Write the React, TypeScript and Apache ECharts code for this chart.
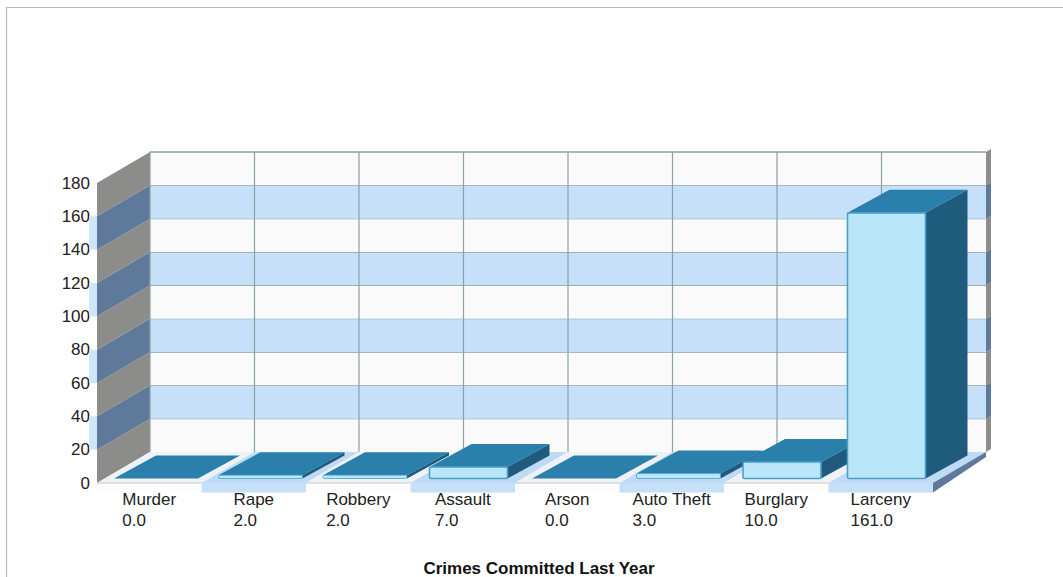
import React, { useEffect, useRef } from "react";
import * as echarts from "echarts";

const categories = ["Murder", "Rape", "Robbery", "Assault", "Arson", "Auto Theft", "Burglary", "Larceny"];
const crimeValues = [0, 2, 2, 7, 0, 3, 10, 161];
const valueTicks = [0, 20, 40, 60, 80, 100, 120, 140, 160];
const titleText = "Crimes Committed Last Year";

const WALL_DX = 53;
const WALL_DY = -31;
const BAR_DX = 42;
const BAR_DY = -23;
const SLAB = 9.5;
const BAR_SCALE = 0.99;
const FONT = '"Liberation Sans", Arial, sans-serif';
const GRID_LINE = "#8ba2a6";

const isBlueBand = (low: number) => (low / 20) % 2 === 1;

function poly(points: number[][], fill: string, stroke?: string, lineWidth = 1) {
  return {
    type: "polygon",
    shape: { points },
    style: { fill, stroke: stroke || fill, lineWidth: stroke ? lineWidth : 0 },
  };
}

export default function App() {
  const ref = useRef<HTMLDivElement>(null);

  useEffect(() => {
    if (!ref.current) return;
    const chart = echarts.init(ref.current, undefined, { renderer: "svg" });

    const renderBand = (_params: any, api: any) => {
      const low = api.value(1) as number;
      const high = api.value(2) as number;
      const left = api.coord([0, low])[0] - api.size([1, 0])[0] / 2;
      const bandW = api.size([1, 0])[0] * categories.length;
      const right = left + bandW;
      const yLow = api.coord([0, low])[1];
      const yHigh = api.coord([0, high])[1];
      const blue = isBlueBand(low);
      const backFill = blue ? "#c6e0f9" : "#fafafa";
      const sideFill = blue ? "#5e7999" : "#8c8c8a";
      const children: any[] = [
        poly(
          [
            [left + WALL_DX, yLow + WALL_DY],
            [right + WALL_DX, yLow + WALL_DY],
            [right + WALL_DX, yHigh + WALL_DY],
            [left + WALL_DX, yHigh + WALL_DY],
          ],
          backFill
        ),
        poly(
          [
            [left, yLow],
            [left + WALL_DX, yLow + WALL_DY],
            [left + WALL_DX, yHigh + WALL_DY],
            [left, yHigh],
          ],
          sideFill
        ),
        poly(
          [
            [right + WALL_DX, yLow + WALL_DY],
            [right + WALL_DX + 5, yLow + WALL_DY - 3],
            [right + WALL_DX + 5, yHigh + WALL_DY - 3],
            [right + WALL_DX, yHigh + WALL_DY],
          ],
          sideFill
        ),
        {
          type: "line",
          shape: { x1: left + WALL_DX, y1: yHigh + WALL_DY, x2: right + WALL_DX, y2: yHigh + WALL_DY },
          style: { stroke: GRID_LINE, lineWidth: 1.4 },
        },
      ];
      if (blue) {
        children.push(poly([[left - 8, yLow], [left, yLow], [left, yHigh], [left - 8, yHigh]], "#cfe5fa"));
      }
      return { type: "group", children };
    };

    const renderFloor = (_params: any, api: any) => {
      const i = api.value(0) as number;
      const x0 = api.coord([i, 0])[0];
      const y0 = api.coord([i, 0])[1];
      const w = api.size([1, 0])[0];
      const x = x0 - w / 2;
      const blue = i % 2 === 1;
      const top = blue ? "#bfdaf4" : "#eef2f5";
      const front = blue ? "#c6e0f9" : "#fdfdfd";
      const children: any[] = [
        poly(
          [
            [x, y0],
            [x + w, y0],
            [x + w + WALL_DX, y0 + WALL_DY],
            [x + WALL_DX, y0 + WALL_DY],
          ],
          top
        ),
        poly([[x, y0], [x + w, y0], [x + w, y0 + SLAB], [x, y0 + SLAB]], front),
        {
          type: "line",
          shape: { x1: x + WALL_DX, y1: y0 + WALL_DY, x2: x + WALL_DX, y2: api.coord([i, 180])[1] + WALL_DY },
          style: { stroke: GRID_LINE, lineWidth: 1.2 },
        },
      ];
      if (!blue) {
        children.push({
          type: "line",
          shape: { x1: x, y1: y0, x2: x + w, y2: y0 },
          style: { stroke: "#c9c9c4", lineWidth: 1 },
        });
      }
      if (i === categories.length - 1) {
        children.push(
          poly(
            [
              [x + w, y0],
              [x + w + WALL_DX, y0 + WALL_DY],
              [x + w + WALL_DX, y0 + WALL_DY + 5],
              [x + w, y0 + SLAB],
            ],
            "#5e7999"
          )
        );
      }
      return { type: "group", children };
    };

    const renderBar = (_params: any, api: any) => {
      const i = api.value(0) as number;
      const v = api.value(1) as number;
      const w = api.size([1, 0])[0];
      const cx = api.coord([i, 0])[0];
      const base = api.coord([i, 0])[1] - 4.5;
      const h = (api.coord([i, 0])[1] - api.coord([i, v])[1]) * BAR_SCALE;
      const thin = v <= 3;
      const barW = thin ? 84 : 78;
      const x = cx - w / 2 + (thin ? 17 : 19);
      const top = base - h;
      const topFill = "#2a7fab";
      const sideFill = "#1f5b7c";
      const children: any[] = [];
      if (h > 0) {
        children.push(
          poly(
            [
              [x + barW, base],
              [x + barW + BAR_DX, base + BAR_DY],
              [x + barW + BAR_DX, top + BAR_DY],
              [x + barW, top],
            ],
            sideFill
          )
        );
      }
      children.push(
        poly(
          [
            [x, top],
            [x + barW, top],
            [x + barW + BAR_DX, top + BAR_DY],
            [x + BAR_DX, top + BAR_DY],
          ],
          topFill
        )
      );
      if (h > 0) {
        children.push({
          type: "rect",
          shape: { x, y: top, width: barW, height: h, r: 1.5 },
          style: { fill: "#b9e7f9", stroke: "#4b9fcb", lineWidth: thin ? 0.8 : 1.6 },
        });
      }
      return { type: "group", children };
    };

    const bandData = valueTicks.map((low) => [0, low, low + 20]);
    const floorData = categories.map((_, i) => [i, 0]);
    const barData = crimeValues.map((v, i) => [i, v]);

    chart.setOption({
      animation: false,
      backgroundColor: "#ffffff",
      title: {
        text: titleText,
        left: 539,
        top: 560,
        textAlign: "center",
        padding: 0,
        textStyle: { fontFamily: FONT, fontSize: 17, lineHeight: 17, fontWeight: "bold", color: "#111111" },
      },
      grid: { left: 97, width: 836, top: 183, height: 300, containLabel: false },
      xAxis: {
        type: "category",
        data: categories,
        axisLine: { show: false },
        axisTick: { show: false },
        splitLine: { show: false },
        axisLabel: {
          interval: 0,
          margin: 6,
          formatter: (name: string, index: number) =>
            `{n|${name}}\n{n|${crimeValues[index].toFixed(1)}}`,
          rich: {
            n: {
              align: "left",
              fontFamily: FONT,
              fontSize: 17,
              lineHeight: 21,
              color: "#222222",
            },
          },
        },
      },
      yAxis: {
        type: "value",
        min: 0,
        max: 180,
        interval: 20,
        axisLine: { show: false },
        axisTick: { show: false },
        splitLine: { show: false },
        axisLabel: { margin: 7, fontFamily: FONT, fontSize: 17, color: "#222222" },
      },
      series: [
        {
          type: "custom",
          name: "walls",
          clip: false,
          silent: true,
          renderItem: renderBand,
          encode: { x: 0, y: [1, 2] },
          data: bandData,
          z: 1,
        },
        {
          type: "custom",
          name: "floor",
          clip: false,
          silent: true,
          renderItem: renderFloor,
          encode: { x: 0, y: 1 },
          data: floorData,
          z: 2,
        },
        {
          type: "custom",
          name: "Crimes",
          clip: false,
          renderItem: renderBar,
          encode: { x: 0, y: 1 },
          data: barData,
          z: 3,
        },
      ],
      graphic: [
        {
          type: "polyline",
          silent: true,
          shape: { points: [[6.5, 577], [6.5, 7.5], [1063, 7.5]] },
          style: { fill: "none", stroke: "#b9b9b9", lineWidth: 1.2 },
        },
      ],
    });

    return () => chart.dispose();
  }, []);

  return <div ref={ref} style={{ position: "absolute", left: 0, top: 0, width: 1063, height: 577 }} />;
}
